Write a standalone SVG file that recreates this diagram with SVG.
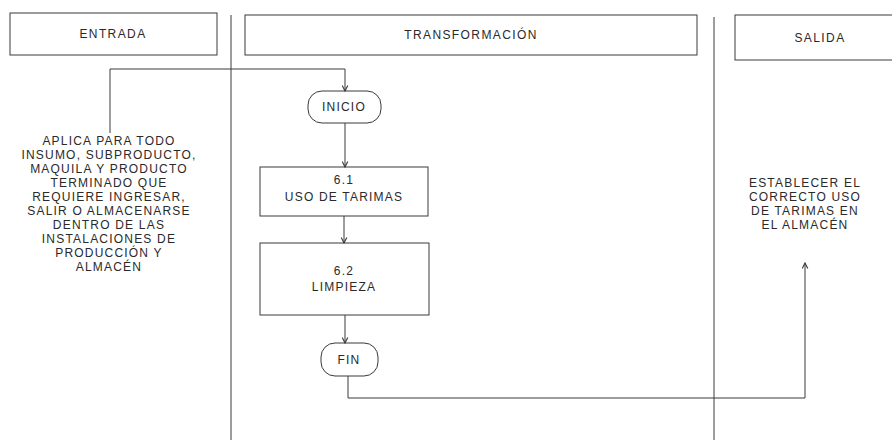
<svg xmlns="http://www.w3.org/2000/svg" width="892" height="444" viewBox="0 0 892 444">
<defs>
<style>
.bg{fill:#ffffff}
.box{fill:none;stroke:#3a3a3a;stroke-width:1}
.div{fill:none;stroke:#3a3a3a;stroke-width:1}
.con{fill:none;stroke:#3a3a3a;stroke-width:1}
text{font-family:"Liberation Sans",Arial,sans-serif;font-size:12px;fill:#2a2a2a;text-anchor:middle;letter-spacing:1.2px}
.hd{font-size:12px;letter-spacing:1.4px}
</style>
<marker id="arr" viewBox="0 0 10 10" refX="9" refY="5" markerWidth="7" markerHeight="7" markerUnits="userSpaceOnUse" orient="auto">
<path d="M1,1 L9,5 L1,9" fill="none" stroke="#3a3a3a" stroke-width="1.6"/>
</marker>
</defs>
<rect class="bg" x="0" y="0" width="892" height="444"/>

<g id="lanes">
<line class="div" x1="231" y1="15" x2="231" y2="440"/>
<line class="div" x1="714" y1="17" x2="714" y2="440"/>
</g>

<g id="entrada-header">
<rect class="box" x="10" y="13" width="207" height="42"/>
<text class="hd" x="113" y="38">ENTRADA</text>
</g>

<g id="transformacion-header">
<rect class="box" x="245" y="15" width="452" height="40"/>
<text class="hd" x="471" y="39">TRANSFORMACIÓN</text>
</g>

<g id="salida-header">
<rect class="box" x="735" y="15" width="170" height="45"/>
<text class="hd" x="820" y="42">SALIDA</text>
</g>

<g id="entrada-text">
<text x="109" y="145">APLICA PARA TODO</text>
<text x="109" y="159">INSUMO, SUBPRODUCTO,</text>
<text x="109" y="173">MAQUILA Y PRODUCTO</text>
<text x="109" y="187">TERMINADO QUE</text>
<text x="109" y="201">REQUIERE INGRESAR,</text>
<text x="109" y="215">SALIR O ALMACENARSE</text>
<text x="109" y="229">DENTRO DE LAS</text>
<text x="109" y="243">INSTALACIONES DE</text>
<text x="109" y="257">PRODUCCIÓN Y</text>
<text x="109" y="271">ALMACÉN</text>
</g>

<g id="salida-text">
<text x="805" y="187">ESTABLECER EL</text>
<text x="805" y="201">CORRECTO USO</text>
<text x="805" y="215">DE TARIMAS EN</text>
<text x="805" y="229">EL ALMACÉN</text>
</g>

<g id="inicio">
<rect class="box" x="308" y="91" width="73" height="32" rx="14" ry="14"/>
<text x="344" y="111">INICIO</text>
</g>

<g id="uso-tarimas">
<rect class="box" x="260" y="167" width="168" height="49"/>
<text x="344" y="184">6.1</text>
<text x="344" y="201">USO DE TARIMAS</text>
</g>

<g id="limpieza">
<rect class="box" x="260" y="243" width="169" height="72"/>
<text x="344" y="275">6.2</text>
<text x="344" y="291">LIMPIEZA</text>
</g>

<g id="fin">
<rect class="box" x="321" y="343" width="57" height="33" rx="14" ry="14"/>
<text x="349" y="364">FIN</text>
</g>

<g id="connectors">
<path class="con" d="M110,133 L110,69 L345,69 L345,91" marker-end="url(#arr)"/>
<path class="con" d="M345,123 L345,167" marker-end="url(#arr)"/>
<path class="con" d="M344,216 L344,243" marker-end="url(#arr)"/>
<path class="con" d="M345,315 L345,343" marker-end="url(#arr)"/>
<path class="con" d="M348,376 L348,398 L805,398 L805,263" marker-end="url(#arr)"/>
</g>
</svg>
